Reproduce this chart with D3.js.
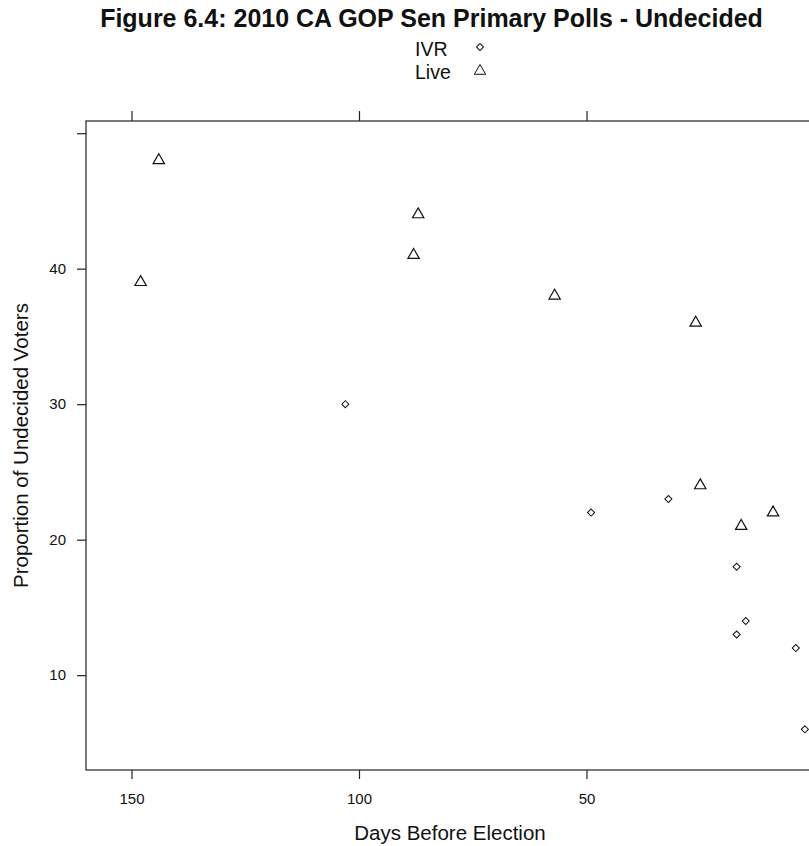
<!DOCTYPE html>
<html>
<head>
<meta charset="utf-8">
<script src="https://cdn.jsdelivr.net/npm/d3@7"></script>
<style>
  html, body { margin: 0; padding: 0; background: #fff; overflow: hidden; }
  text { font-family: "Liberation Sans", Arial, sans-serif; fill: #111; }
</style>
</head>
<body>
<svg id="chart" width="809" height="846"></svg>
<script>
// Undecided share by days before the 2010 CA GOP Senate primary, by poll mode
const ivrDays = [103, 49, 32, 17, 15, 17, 4, 2];
const ivrUndecided = [30, 22, 23, 18, 14, 13, 12, 6];
const liveDays = [144, 148, 87, 88, 57, 26, 25, 16, 9];
const liveUndecided = [48, 39, 44, 41, 38, 36, 24, 21, 22];
const xTicks = [150, 100, 50];
const yTicks = [10, 20, 30, 40, 50];
const yTickLabels = ["10", "20", "30", "40", ""];
const modes = ["IVR", "Live"];

const svg = d3.select("#chart");
const panel = { left: 86, right: 814, top: 121, bottom: 770 };

// Reversed day axis: far-out polls on the left, election day on the right
const x = d3.scaleLinear().domain([160, 0]).range([panel.left, panel.right]);
const y = d3.scaleLinear().domain([3, 50.9]).range([panel.bottom, panel.top]);

// Title
svg.append("text")
  .attr("x", 431.5).attr("y", 27)
  .attr("text-anchor", "middle")
  .style("font-weight", "bold").style("font-size", "25px")
  .text("Figure 6.4: 2010 CA GOP Sen Primary Polls - Undecided");

// Legend
const symDiamond = d3.symbol().type(d3.symbolSquare).size(25);
const symTriangle = d3.symbol().type(d3.symbolTriangle).size(56);
const legend = svg.append("g");
modes.forEach((m, i) => {
  const ly = 49 + i * 23;
  legend.append("text")
    .attr("x", 415).attr("y", ly + 7)
    .style("font-size", "19.5px")
    .text(m);
  legend.append("path")
    .attr("d", i === 0 ? symDiamond() : symTriangle())
    .attr("transform", i === 0 ? `translate(480,${ly - 2}) rotate(45)` : `translate(480,${ly - 1})`)
    .attr("fill", "none").attr("stroke", "#111").attr("stroke-width", 1);
});

// Panel box
svg.append("rect")
  .attr("x", panel.left).attr("y", panel.top)
  .attr("width", panel.right - panel.left).attr("height", panel.bottom - panel.top)
  .attr("fill", "none").attr("stroke", "#222").attr("stroke-width", 1.2);

// Bottom axis with labels
const xAxisB = svg.append("g")
  .attr("transform", `translate(0,${panel.bottom})`)
  .call(d3.axisBottom(x).tickValues(xTicks).tickSize(9).tickPadding(14).tickFormat(d3.format("d")));
// Top axis: ticks only
const xAxisT = svg.append("g")
  .attr("transform", `translate(0,${panel.top})`)
  .call(d3.axisTop(x).tickValues(xTicks).tickSize(10).tickFormat(""));
// Left axis
const yAxisL = svg.append("g")
  .attr("transform", `translate(${panel.left},0)`)
  .call(d3.axisLeft(y).tickValues(yTicks).tickSize(9).tickPadding(11)
    .tickFormat((d, i) => yTickLabels[i]));

[xAxisB, xAxisT, yAxisL].forEach(g => {
  g.select(".domain").remove();
  g.selectAll(".tick line").attr("stroke", "#222").attr("stroke-width", 1.2);
  g.selectAll(".tick text").style("font-size", "15px").style("font-family", "'Liberation Sans', Arial, sans-serif").attr("fill", "#1a1a2e");
});

// Axis titles
svg.append("text")
  .attr("x", 450).attr("y", 840)
  .attr("text-anchor", "middle")
  .style("font-size", "20.5px")
  .text("Days Before Election");
svg.append("text")
  .attr("transform", `translate(28,${(panel.top + panel.bottom) / 2}) rotate(-90)`)
  .attr("text-anchor", "middle")
  .style("font-size", "20.5px")
  .text("Proportion of Undecided Voters");

// Points
const pts = svg.append("g");
pts.selectAll("path.ivr")
  .data(ivrDays.map((d, i) => ({ d, v: ivrUndecided[i] })))
  .join("path")
  .attr("class", "ivr")
  .attr("d", symDiamond())
  .attr("transform", p => `translate(${x(p.d)},${y(p.v)}) rotate(45)`)
  .attr("fill", "none").attr("stroke", "#111").attr("stroke-width", 1);
pts.selectAll("path.live")
  .data(liveDays.map((d, i) => ({ d, v: liveUndecided[i] })))
  .join("path")
  .attr("class", "live")
  .attr("d", symTriangle())
  .attr("transform", p => `translate(${x(p.d)},${y(p.v)})`)
  .attr("fill", "none").attr("stroke", "#111").attr("stroke-width", 1.2);
</script>
</body>
</html>
